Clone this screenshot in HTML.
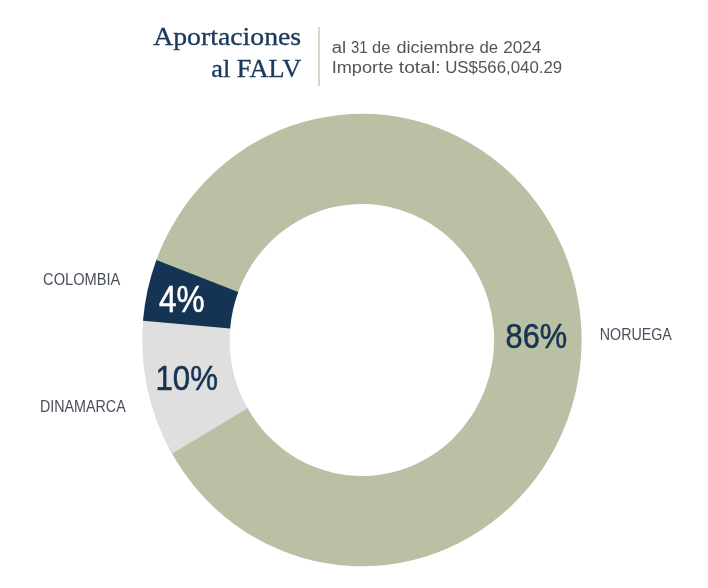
<!DOCTYPE html>
<html lang="es">
<head>
<meta charset="utf-8">
<title>Aportaciones al FALV</title>
<style>
html,body{margin:0;padding:0;background:#fff;}
body{width:708px;height:588px;overflow:hidden;position:relative;}
svg{position:absolute;left:0;top:0;display:block;}
.serif{font-family:"Liberation Serif",serif;fill:#1b3a5c;}
.sub{font-family:"Liberation Sans",sans-serif;fill:#555;}
.lab{font-family:"Liberation Sans",sans-serif;fill:#4a4f5c;}
.pct{font-family:"Liberation Sans",sans-serif;fill:#153453;}
</style>
</head>
<body>
<svg width="708" height="588" viewBox="0 0 708 588">
  <!-- donut -->
  <path fill="#b9c0a3" d="M169.15,448.58A219.7,226.25 0 1 0 154.42,265.59L237.05,295.27A132.2,136.0 0 1 1 245.92,405.27Z"/>
  <path fill="#dfdfdf" d="M143.35,316.86A219.7,226.25 0 0 0 171.98,453.74L247.62,408.37A132.2,136.0 0 0 1 230.39,326.09Z"/>
  <path fill="#153453" d="M156.38,260.03A219.7,226.25 0 0 0 142.99,320.79L230.18,328.45A132.2,136.0 0 0 1 238.23,291.93Z"/>

  <!-- header -->
  <g class="serif" font-size="25.6" text-anchor="end" stroke="#1b3a5c" stroke-width="0.35">
    <text x="301.2" y="45.3" textLength="148" lengthAdjust="spacingAndGlyphs">Aportaciones</text>
    <text x="301.2" y="77" textLength="90" lengthAdjust="spacingAndGlyphs">al FALV</text>
  </g>
  <rect x="318" y="27" width="2" height="59" fill="#d5dac8"/>
  <g class="sub" font-size="16">
    <text y="53.3"><tspan x="331.8" textLength="14.4" lengthAdjust="spacingAndGlyphs">al</tspan> <tspan x="351.0" textLength="16.6" lengthAdjust="spacingAndGlyphs">31</tspan> <tspan x="372.0" textLength="18.3" lengthAdjust="spacingAndGlyphs">de</tspan> <tspan x="396.4" textLength="78.2" lengthAdjust="spacingAndGlyphs">diciembre</tspan> <tspan x="479.4" textLength="18.6" lengthAdjust="spacingAndGlyphs">de</tspan> <tspan x="503.2" textLength="38.2" lengthAdjust="spacingAndGlyphs">2024</tspan></text>
    <text y="73"><tspan x="331.7" textLength="61.6" lengthAdjust="spacingAndGlyphs">Importe</tspan> <tspan x="398.8" textLength="41.7" lengthAdjust="spacingAndGlyphs">total:</tspan> <tspan x="445.2" textLength="117" lengthAdjust="spacingAndGlyphs">US$566,040.29</tspan></text>
  </g>

  <!-- labels -->
  <g class="lab" font-size="16">
    <text x="43.1" y="285.2" textLength="77.2" lengthAdjust="spacingAndGlyphs">COLOMBIA</text>
    <text x="39.9" y="412.4" textLength="85.8" lengthAdjust="spacingAndGlyphs">DINAMARCA</text>
    <text x="599.8" y="340.3" textLength="72" lengthAdjust="spacingAndGlyphs">NORUEGA</text>
  </g>

  <!-- percentages -->
  <g class="pct" font-size="35" stroke="#153453" stroke-width="0.55">
    <text x="158.9" y="311.9" font-size="36" textLength="45.6" lengthAdjust="spacingAndGlyphs" style="fill:#fff;stroke:#fff">4%</text>
    <text x="155.5" y="389.7" textLength="62.5" lengthAdjust="spacingAndGlyphs">10%</text>
    <text x="505.6" y="347.7" textLength="61.6" lengthAdjust="spacingAndGlyphs">86%</text>
  </g>
</svg>
</body>
</html>
